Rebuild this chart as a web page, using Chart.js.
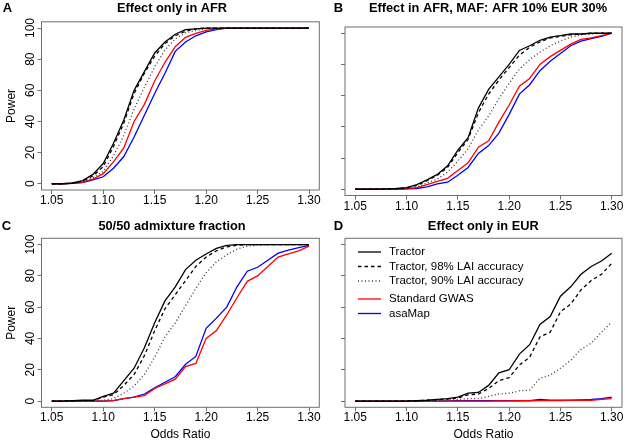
<!DOCTYPE html>
<html>
<head>
<meta charset="utf-8">
<script src="https://cdn.jsdelivr.net/npm/chart.js@4.4.1/dist/chart.umd.min.js"></script>
<style>
body { margin: 0; background: #fff; }
#wrap { position: relative; width: 625px; height: 441px; }
#wrap canvas { position: absolute; left: 0; top: 0; }
</style>
</head>
<body>
<div id="wrap">
  <canvas id="panelA" width="625" height="441"></canvas>
  <canvas id="panelB" width="625" height="441"></canvas>
  <canvas id="panelC" width="625" height="441"></canvas>
  <canvas id="panelD" width="625" height="441"></canvas>
</div>
<script>
// odds ratios on the x axis
const oddsRatio = [1.05, 1.06, 1.07, 1.08, 1.09, 1.10, 1.11, 1.12, 1.13, 1.14, 1.15, 1.16, 1.17,
  1.18, 1.19, 1.20, 1.21, 1.22, 1.23, 1.24, 1.25, 1.26, 1.27, 1.28, 1.29, 1.30];
const xTicks = [1.05, 1.10, 1.15, 1.20, 1.25, 1.30];
const yTicks = [0, 20, 40, 60, 80, 100];
const seriesNames = ['Tractor', 'Tractor, 98% LAI accuracy', 'Tractor, 90% LAI accuracy', 'Standard GWAS', 'asaMap'];

// A - effect only in AFR
const aTractor   = [0, 0, 0.5, 2, 6, 13, 26, 41, 60, 72, 84, 91, 96, 99, 99.5, 100, 100, 100, 100, 100, 100, 100, 100, 100, 100, 100];
const aTractor98 = [0, 0, 0.4, 1.8, 5, 11, 24, 39, 58, 71, 82, 90, 95, 98, 99.5, 100, 100, 100, 100, 100, 100, 100, 100, 100, 100, 100];
const aTractor90 = [0, 0, 0.3, 1.5, 4, 8, 18, 31, 48, 62, 75, 86, 93, 97, 98.5, 99.5, 100, 100, 100, 100, 100, 100, 100, 100, 100, 100];
const aGwas      = [0, 0, 0.2, 1, 3, 6.5, 14, 23, 40, 51, 66, 78, 88, 94, 96.5, 98.5, 99.5, 100, 100, 100, 100, 100, 100, 100, 100, 100];
const aAsaMap    = [0, 0, 0.2, 0.8, 2.5, 4.5, 10, 17.5, 30, 44, 58, 71, 85, 91, 95, 97.5, 99, 100, 100, 100, 100, 100, 100, 100, 100, 100];

// B - effect in AFR, MAF AFR 10% EUR 30%
const bTractor   = [0, 0, 0, 0.2, 0.5, 1, 3, 6, 9.5, 15, 25, 33, 52, 64, 72, 80, 89, 92, 95.5, 97.5, 98.5, 99.5, 99.5, 100, 100, 100];
const bTractor98 = [0, 0, 0, 0.2, 0.4, 0.8, 2.5, 5.5, 9, 14, 23.5, 32, 49, 61, 70, 78, 86, 91, 94.5, 97, 98, 99, 99.5, 100, 100, 100];
const bTractor90 = [0, 0, 0, 0.1, 0.3, 0.6, 1.5, 4, 6.5, 11, 18, 26, 38, 47, 58, 68, 77, 83, 88, 92, 95, 97.5, 99, 99.5, 100, 100];
const bGwas      = [0, 0, 0, 0, 0.1, 0.3, 1, 3, 5, 7, 12, 17, 27, 31, 43, 54, 66, 71, 80, 85, 89, 93, 96, 97, 98.5, 100];
const bAsaMap    = [0, 0, 0, 0, 0, 0.2, 0.5, 1.5, 3.5, 4.5, 9, 14, 23, 28, 36, 48, 61, 67, 76, 82, 87, 92, 95, 96.5, 98, 100];

// C - 50/50 admixture fraction
const cTractor   = [0, 0, 0.2, 0.5, 0.5, 3, 5, 13, 21, 34, 50, 64, 73, 84, 90, 94, 97.5, 99.5, 100, 100, 100, 100, 100, 100, 100, 100];
const cTractor98 = [0, 0, 0.1, 0.3, 0.3, 2.5, 4, 10, 17, 29, 45, 59, 68, 77, 86, 92, 96, 98.5, 99.5, 100, 100, 100, 100, 100, 100, 100];
const cTractor90 = [0, 0, 0, 0.1, 0.2, 0.5, 1.5, 5, 9.5, 17, 28, 41, 50, 61, 72, 82, 89, 93.5, 97, 99, 99.5, 100, 100, 100, 100, 100];
const cGwas      = [0, 0, 0, 0, 0, 0, 0.3, 1.5, 2.5, 3.5, 8, 11, 14, 22, 24, 40, 45, 55, 66, 76.5, 80, 86, 92, 94, 96, 99];
const cAsaMap    = [0, 0, 0, 0, 0, 0, 0.3, 1.5, 2.5, 4.5, 8.5, 12, 15.5, 23.5, 28.5, 46.5, 53, 60, 73, 83, 85.5, 90, 94.5, 96.5, 98, 99.5];

// D - effect only in EUR
const dTractor   = [0, 0, 0, 0, 0, 0, 0.2, 0.5, 1, 1.5, 2.5, 5, 5.5, 10, 18, 20, 30, 36, 49, 54, 67, 73, 81, 86, 89.5, 94.5];
const dTractor98 = [0, 0, 0, 0, 0, 0, 0.2, 0.5, 0.8, 1.2, 2, 4, 4.5, 8, 13, 15, 23, 28, 41, 44, 57, 62, 71, 77, 81, 88];
const dTractor90 = [0, 0, 0, 0, 0, 0, 0.1, 0.2, 0.3, 0.6, 1, 1.5, 1.5, 3, 4.5, 5, 6.5, 7, 14.5, 16.5, 21, 26, 33, 37, 44, 50.5];
const dGwas      = [0, 0, 0, 0, 0, 0, 0, 0, 0, 0, 0, 0, 0, 0, 0.1, 0.1, 0.2, 0.2, 0.3, 0.3, 0.3, 0.4, 0.5, 0.5, 1, 1.5];
const dAsaMap    = [0, 0, 0, 0, 0, 0, 0, 0, 0, 0.1, 0.2, 0.2, 0.2, 0.2, 0.2, 0.2, 0.2, 0.3, 1, 0.6, 0.6, 0.6, 0.8, 1, 1.5, 2.5];

const lineStyles = [
  { color: '#000000', dash: [] },
  { color: '#000000', dash: [3.5, 3] },
  { color: '#333333', dash: [1, 2.5] },
  { color: '#ff0000', dash: [] },
  { color: '#0000ff', dash: [] }
];

const FONT = '"Liberation Sans", Arial, Helvetica, sans-serif';
const X_AXIS_H = 20;

const decor = {
  id: 'decor',
  afterDraw(chart, args, o) {
    const ctx = chart.ctx;
    const a = chart.chartArea;
    ctx.save();
    // box round the plot
    ctx.strokeStyle = '#6e6e6e';
    ctx.lineWidth = 1;
    ctx.strokeRect(a.left, a.top, a.right - a.left, a.bottom - a.top);

    ctx.fillStyle = '#000';
    ctx.textAlign = 'center';
    ctx.textBaseline = 'middle';
    ctx.font = 'bold 13px ' + FONT;
    ctx.fillText(o.letter, o.letterX, o.letterY);
    ctx.font = 'bold 12.8px ' + FONT;
    ctx.fillText(o.title, o.titleX, o.letterY);

    ctx.font = '12px ' + FONT;
    if (o.yLabels) {
      yTicks.forEach(v => {
        const y = chart.scales.y.getPixelForValue(v);
        ctx.save();
        ctx.translate(a.left - 11, y);
        ctx.rotate(-Math.PI / 2);
        ctx.fillText(String(v), 0, 0);
        ctx.restore();
      });
      ctx.save();
      ctx.translate(12, (a.top + a.bottom) / 2);
      ctx.rotate(-Math.PI / 2);
      ctx.fillText('Power', 0, 0);
      ctx.restore();
    }
    if (o.xTitle) {
      ctx.fillText('Odds Ratio', (a.left + a.right) / 2, 435);
    }
    if (o.legend) {
      const rows = [252, 266.5, 281, 299, 313.5];
      ctx.font = '11.5px ' + FONT;
      ctx.textAlign = 'left';
      chart.data.datasets.forEach((ds, i) => {
        const y = rows[i];
        ctx.save();
        ctx.strokeStyle = ds.borderColor;
        ctx.lineWidth = ds.borderWidth;
        ctx.setLineDash(ds.borderDash);
        ctx.beginPath();
        ctx.moveTo(a.left + 13, y);
        ctx.lineTo(a.left + 36, y);
        ctx.stroke();
        ctx.restore();
        ctx.fillText(ds.label, a.left + 44, y);
      });
    }
    ctx.restore();
  }
};

function makePanel(id, series, box, o) {
  const datasets = series.map((vals, i) => ({
    label: seriesNames[i],
    data: oddsRatio.map((x, k) => ({ x: x, y: vals[k] })),
    borderColor: lineStyles[i].color,
    borderDash: lineStyles[i].dash,
    borderWidth: 1.3,
    pointRadius: 0,
    tension: 0,
    fill: false
  }));
  new Chart(document.getElementById(id), {
    type: 'line',
    data: { datasets },
    options: {
      responsive: false,
      animation: false,
      events: [],
      layout: { padding: { left: box.l, right: 625 - box.r, top: box.t, bottom: 441 - box.b - X_AXIS_H } },
      plugins: {
        legend: { display: false },
        tooltip: { enabled: false },
        title: { display: false },
        decor: o
      },
      scales: {
        x: {
          type: 'linear',
          min: 1.04,
          max: 1.31,
          afterBuildTicks: s => { s.ticks = xTicks.map(v => ({ value: v })); },
          afterFit: s => { s.height = X_AXIS_H; s.paddingLeft = 0; s.paddingRight = 0; },
          grid: { drawOnChartArea: false, drawTicks: true, tickLength: 4, color: '#6e6e6e' },
          border: { display: false },
          ticks: {
            autoSkip: false, maxRotation: 0, minRotation: 0, padding: o.xPad, color: '#000',
            font: { family: FONT, size: 12, lineHeight: 1 },
            callback: v => Number(v).toFixed(2)
          }
        },
        y: {
          min: -4,
          max: 104,
          afterBuildTicks: s => { s.ticks = yTicks.map(v => ({ value: v })); },
          afterFit: s => { s.width = 0; s.paddingTop = 0; s.paddingBottom = 0; },
          grid: { drawOnChartArea: false, drawTicks: true, tickLength: 4, color: '#6e6e6e' },
          border: { display: false },
          ticks: { display: false }
        }
      }
    },
    plugins: [decor]
  });
}

makePanel('panelA', [aTractor, aTractor98, aTractor90, aGwas, aAsaMap],
  { l: 41.5, r: 319.3, t: 21.8, b: 190 },
  { title: 'Effect only in AFR', titleX: 172, letter: 'A', letterX: 7.5, letterY: 8, xPad: 0.5, yLabels: true });

makePanel('panelB', [bTractor, bTractor98, bTractor90, bGwas, bAsaMap],
  { l: 345, r: 622, t: 27, b: 195.5 },
  { title: 'Effect in AFR, MAF: AFR 10% EUR 30%', titleX: 488, letter: 'B', letterX: 338.5, letterY: 8, xPad: 1 });

makePanel('panelC', [cTractor, cTractor98, cTractor90, cGwas, cAsaMap],
  { l: 41.5, r: 319.3, t: 238.3, b: 407.3 },
  { title: '50/50 admixture fraction', titleX: 172, letter: 'C', letterX: 6.5, letterY: 226.5, xPad: 0, yLabels: true, xTitle: true });

makePanel('panelD', [dTractor, dTractor98, dTractor90, dGwas, dAsaMap],
  { l: 345, r: 622, t: 238.3, b: 407.3 },
  { title: 'Effect only in EUR', titleX: 483.3, letter: 'D', letterX: 338.5, letterY: 226.5, xPad: 0, xTitle: true, legend: true });
</script>
</body>
</html>
